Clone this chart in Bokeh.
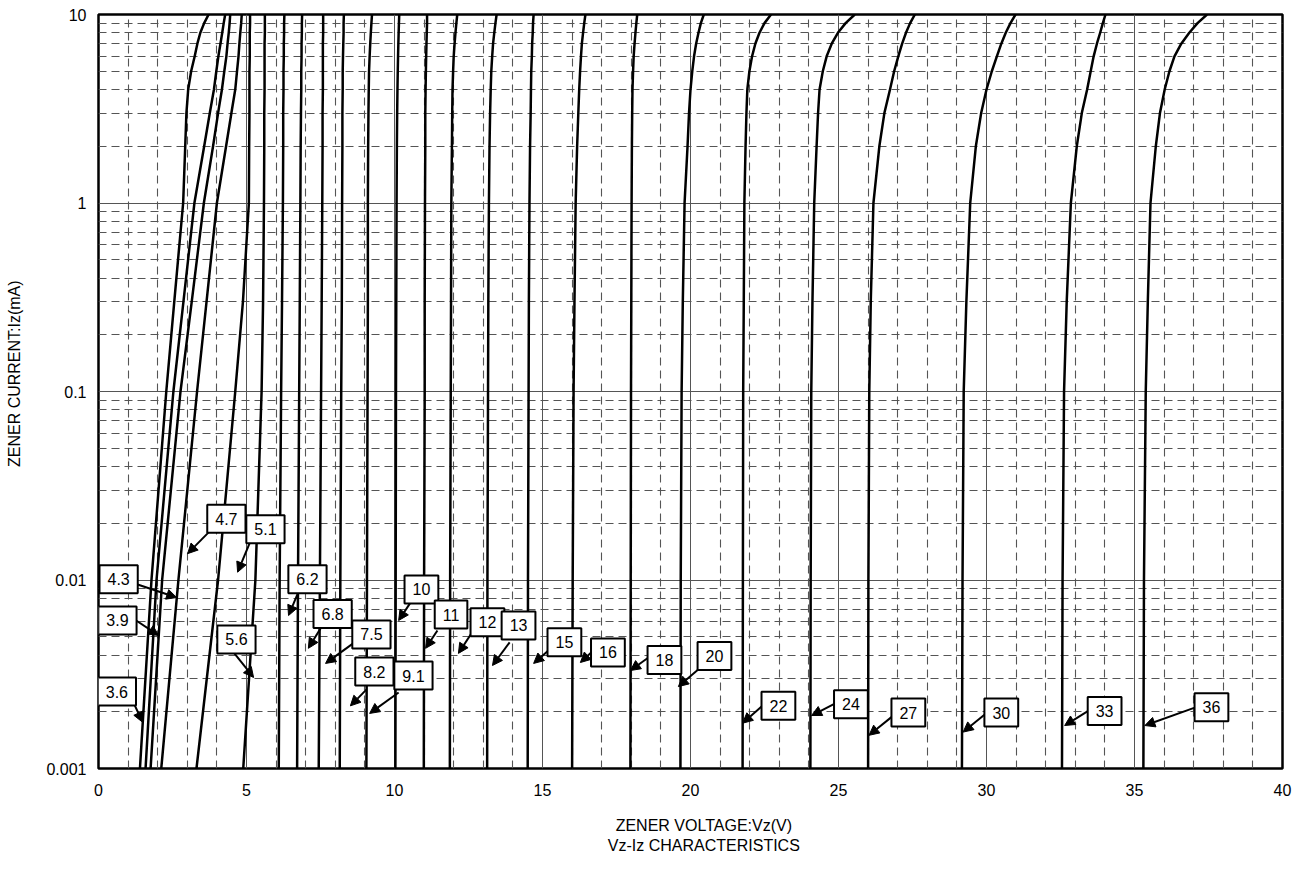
import math
from bokeh.plotting import figure
from bokeh.models import (FixedTicker, CustomJSTickFormatter, Label, Arrow,
                          NormalHead, ColumnDataSource)
from bokeh.embed import file_html
from bokeh.resources import INLINE

# ---------------- data ----------------
currents = [0.001, 0.01, 0.1, 0.3, 1, 2, 3, 4, 5, 6, 7, 8, 9, 10]   # mA

names = ["3.6", "3.9", "4.3", "4.7", "5.1", "5.6", "6.2", "6.8", "7.5", "8.2",
         "9.1", "10", "11", "12", "13", "15", "16", "18", "20", "22", "24",
         "27", "30", "33", "36"]

vz_3v6 = [1.40, 1.79, 2.29, 2.56, 2.86, 2.93, 2.97, 3.03, 3.13, 3.25, 3.34, 3.44, 3.57, 3.72]
vz_3v9 = [1.59, 1.96, 2.53, 2.87, 3.24, 3.57, 3.76, 3.90, 3.98, 4.05, 4.12, 4.18, 4.23, 4.28]
vz_4v3 = [1.76, 2.15, 2.77, 3.15, 3.56, 3.87, 4.04, 4.17, 4.25, 4.32, 4.36, 4.40, 4.43, 4.45]
vz_4v7 = [2.12, 2.70, 3.33, 3.65, 4.00, 4.31, 4.49, 4.62, 4.68, 4.73, 4.76, 4.79, 4.82, 4.84]
vz_5v1 = [3.31, 4.04, 4.62, 4.88, 5.08, 5.09, 5.10, 5.10, 5.10, 5.11, 5.11, 5.11, 5.12, 5.12]
vz_5v6 = [4.89, 5.30, 5.51, 5.56, 5.59, 5.60, 5.60, 5.61, 5.61, 5.61, 5.61, 5.62, 5.62, 5.62]
vz_6v2 = [6.09, 6.12, 6.17, 6.20, 6.23, 6.24, 6.24, 6.25, 6.25, 6.26, 6.26, 6.27, 6.27, 6.28]
vz_6v8 = [6.71, 6.74, 6.78, 6.80, 6.82, 6.83, 6.84, 6.85, 6.85, 6.86, 6.86, 6.87, 6.87, 6.88]
vz_7v5 = [7.44, 7.48, 7.52, 7.54, 7.56, 7.57, 7.57, 7.58, 7.58, 7.58, 7.58, 7.59, 7.59, 7.59]
vz_8v2 = [8.15, 8.17, 8.20, 8.22, 8.23, 8.24, 8.24, 8.25, 8.25, 8.26, 8.27, 8.28, 8.28, 8.29]
vz_9v1 = [9.05, 9.07, 9.09, 9.10, 9.10, 9.11, 9.12, 9.13, 9.14, 9.16, 9.18, 9.20, 9.22, 9.24]
vz_10 = [10.03, 10.04, 10.05, 10.06, 10.07, 10.08, 10.09, 10.10, 10.11, 10.12, 10.13, 10.14, 10.15, 10.16]
vz_11 = [10.99, 11.00, 11.02, 11.02, 11.03, 11.04, 11.04, 11.05, 11.06, 11.07, 11.08, 11.09, 11.10, 11.10]
vz_12 = [11.87, 11.88, 11.90, 11.91, 11.92, 11.94, 11.95, 11.96, 11.98, 12.00, 12.03, 12.06, 12.09, 12.12]
vz_13 = [13.13, 13.14, 13.16, 13.17, 13.19, 13.21, 13.23, 13.25, 13.27, 13.30, 13.33, 13.37, 13.41, 13.45]
vz_15 = [14.50, 14.51, 14.53, 14.54, 14.56, 14.58, 14.60, 14.61, 14.62, 14.64, 14.65, 14.67, 14.68, 14.70]
vz_16 = [16.00, 16.02, 16.05, 16.08, 16.12, 16.17, 16.21, 16.24, 16.27, 16.30, 16.33, 16.37, 16.41, 16.45]
vz_18 = [17.97, 17.98, 17.99, 18.00, 18.01, 18.02, 18.03, 18.04, 18.06, 18.08, 18.11, 18.14, 18.17, 18.20]
vz_20 = [19.66, 19.67, 19.70, 19.74, 19.80, 19.90, 19.95, 20.00, 20.06, 20.12, 20.19, 20.27, 20.35, 20.45]
vz_22 = [21.76, 21.77, 21.78, 21.80, 21.82, 21.86, 21.89, 21.92, 21.99, 22.08, 22.19, 22.33, 22.50, 22.72]
vz_24 = [24.05, 24.06, 24.08, 24.12, 24.18, 24.26, 24.31, 24.36, 24.47, 24.60, 24.77, 24.98, 25.24, 25.55]
vz_27 = [26.00, 26.01, 26.04, 26.09, 26.18, 26.38, 26.55, 26.74, 26.88, 27.02, 27.15, 27.28, 27.42, 27.58]
vz_30 = [29.17, 29.19, 29.23, 29.32, 29.45, 29.64, 29.82, 30.00, 30.18, 30.35, 30.50, 30.65, 30.81, 30.98]
vz_33 = [32.55, 32.57, 32.62, 32.71, 32.85, 33.05, 33.22, 33.40, 33.52, 33.62, 33.73, 33.84, 33.93, 34.02]
vz_36 = [35.30, 35.32, 35.38, 35.45, 35.54, 35.72, 35.86, 36.02, 36.18, 36.35, 36.58, 36.85, 37.13, 37.45]

curves = [vz_3v6, vz_3v9, vz_4v3, vz_4v7, vz_5v1, vz_5v6, vz_6v2, vz_6v8,
          vz_7v5, vz_8v2, vz_9v1, vz_10, vz_11, vz_12, vz_13, vz_15, vz_16,
          vz_18, vz_20, vz_22, vz_24, vz_27, vz_30, vz_33, vz_36]

# label boxes (V, mA), arrow tails and arrow tips (V, mA)
label_v = [0.62, 0.64, 0.68, 4.32, 5.64, 4.66, 7.06, 7.91, 9.22, 9.32, 10.64,
           10.91, 11.91, 13.14, 14.19, 15.74, 17.21, 19.12, 20.81, 22.97,
           25.42, 27.36, 30.50, 33.99, 37.60]
label_i = [0.00256, 0.00610, 0.0101, 0.0211, 0.0186, 0.00484, 0.0101, 0.00660,
           0.00514, 0.00327, 0.00311, 0.00891, 0.00656, 0.00597, 0.00574,
           0.00467, 0.00413, 0.00376, 0.00395, 0.00215, 0.00219, 0.00198,
           0.00198, 0.00202, 0.00211]
tail_v = [1.15, 1.17, 1.22, 3.72, 5.10, 4.59, 6.72, 7.50, 8.65, 9.05, 10.14,
          10.54, 11.45, 12.64, 13.89, 15.20, 16.72, 18.58, 20.34, 22.43,
          24.86, 26.82, 29.93, 33.45, 37.06]
tail_i = [0.00229, 0.00625, 0.00958, 0.0179, 0.0156, 0.00408, 0.00838, 0.00553,
          0.00467, 0.00262, 0.00253, 0.00759, 0.00540, 0.00533, 0.00467,
          0.00423, 0.00423, 0.00388, 0.00343, 0.00215, 0.00220, 0.00189,
          0.00193, 0.00203, 0.00211]
tip_v = [1.49, 2.03, 2.64, 3.01, 4.70, 5.24, 6.42, 7.09, 7.67, 8.51, 9.16,
         10.14, 11.05, 12.16, 13.31, 14.70, 16.28, 17.97, 19.59, 21.76,
         24.09, 26.03, 29.21, 32.64, 35.35]
tip_i = [0.00176, 0.00508, 0.00807, 0.0138, 0.0110, 0.00304, 0.00648, 0.00434,
         0.00361, 0.00215, 0.00196, 0.00610, 0.00434, 0.00408, 0.00352,
         0.00361, 0.00365, 0.00331, 0.00272, 0.00174, 0.00191, 0.00150,
         0.00156, 0.00169, 0.00169]

x_ticks = [0, 5, 10, 15, 20, 25, 30, 35, 40]
x_minor = [1, 2, 3, 4, 6, 7, 8, 9, 11, 12, 13, 14, 16, 17, 18, 19, 21, 22, 23,
           24, 26, 27, 28, 29, 31, 32, 33, 34, 36, 37, 38, 39]
y_ticks = [0.001, 0.01, 0.1, 1, 10]
y_minor = [0.002, 0.003, 0.004, 0.005, 0.006, 0.007, 0.008, 0.009,
           0.02, 0.03, 0.04, 0.05, 0.06, 0.07, 0.08, 0.09,
           0.2, 0.3, 0.4, 0.5, 0.6, 0.7, 0.8, 0.9,
           2, 3, 4, 5, 6, 7, 8, 9]

x_title = "ZENER VOLTAGE:Vz(V)"
sub_title = "Vz-Iz CHARACTERISTICS"
y_title = "ZENER CURRENT:Iz(mA)"

FONT = "Liberation Sans"
NB = "\u00a0"

# ---------------- figure ----------------
p = figure(width=1307, height=880, x_range=(0, 40), y_range=(0.001, 10),
           y_axis_type="log", output_backend="svg", toolbar_location=None,
           min_border_left=98, min_border_right=25, min_border_top=14,
           min_border_bottom=112, background_fill_color="white",
           border_fill_color="white")

xt = FixedTicker(ticks=x_ticks, minor_ticks=x_minor)
yt = FixedTicker(ticks=y_ticks, minor_ticks=y_minor)
p.xaxis.ticker = xt
p.xgrid.ticker = xt
p.yaxis.ticker = yt
p.ygrid.ticker = yt
p.yaxis.formatter = CustomJSTickFormatter(code="return tick.toString();")

for ax in (p.xaxis, p.yaxis):
    ax.axis_line_color = None
    ax.major_tick_line_color = None
    ax.minor_tick_line_color = None
    ax.major_tick_in = 0
    ax.major_tick_out = 0
    ax.minor_tick_in = 0
    ax.minor_tick_out = 0
    ax.major_label_text_font = FONT
    ax.major_label_text_font_size = "16px"
    ax.major_label_text_color = "black"
    ax.axis_label_text_font = FONT
    ax.axis_label_text_font_size = "16px"
    ax.axis_label_text_font_style = "normal"
    ax.axis_label_text_color = "black"
p.xaxis.major_label_standoff = 15
p.yaxis.major_label_standoff = 12

p.xaxis.axis_label = NB * 6 + x_title + "\n" + NB * 6 + sub_title
p.xaxis.axis_label_standoff = 18
p.yaxis.axis_label = NB * 8 + y_title
p.yaxis.axis_label_standoff = 20

for g in (p.xgrid, p.ygrid):
    g.grid_line_color = "#555555"
    g.grid_line_width = 1
    g.minor_grid_line_color = "#555555"
    g.minor_grid_line_width = 1.1
    g.minor_grid_line_dash = "8 5"

p.outline_line_color = "black"
p.outline_line_width = 2.5
p.outline_line_alpha = 1.0

for v in curves:
    p.line(x=v, y=currents, line_color="black", line_width=2.5,
           line_join="round")

src = ColumnDataSource(dict(xs=tail_v, ys=tail_i, xe=tip_v, ye=tip_i))
p.add_layout(Arrow(end=NormalHead(size=10, fill_color="black",
                                  line_color="black", line_width=1),
                   x_start="xs", y_start="ys", x_end="xe", y_end="ye",
                   source=src, line_width=2, line_color="black"))

for n, lv, li in zip(names, label_v, label_i):
    p.add_layout(Label(x=lv, y=li, text=n, text_align="center",
                       text_baseline="middle", text_font=FONT,
                       text_font_size="16px", text_color="black",
                       background_fill_color="white",
                       border_line_color="black", border_line_width=2,
                       padding=8))

open("out.html", "w").write(file_html(p, INLINE))
